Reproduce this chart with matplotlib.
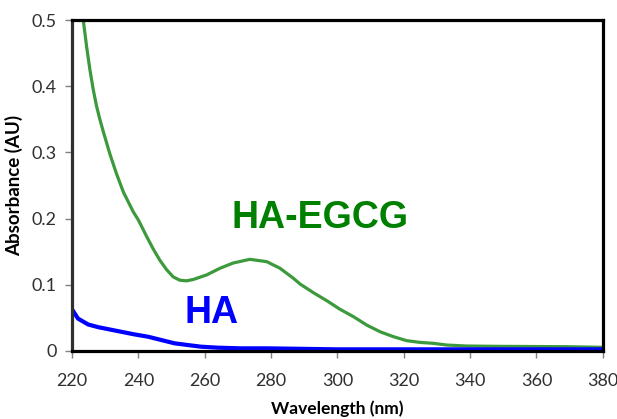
import numpy as np
import matplotlib.pyplot as plt

# HA-EGCG absorbance spectrum
wl_egcg = [223.4, 224.4, 225.4, 226.4, 227.4, 228.4, 229.4, 231.4, 233.4, 235.5,
           238.5, 240.0, 242.5, 244.5, 246.5, 248.5, 250.5, 252.5, 254.5, 256.5,
           260.6, 264.6, 268.6, 273.6, 278.7, 282.7, 286.7, 288.8, 292.8, 296.8,
           300.8, 304.8, 308.9, 312.9, 316.9, 320.9, 324.9, 328.9, 333.0, 339.0,
           349.0, 369.0, 380.0]
abs_egcg = [0.500, 0.460, 0.425, 0.395, 0.370, 0.350, 0.332, 0.298, 0.268, 0.240,
            0.210, 0.198, 0.173, 0.154, 0.137, 0.123, 0.112, 0.107, 0.106, 0.108,
            0.115, 0.125, 0.133, 0.1385, 0.135, 0.125, 0.110, 0.101, 0.088, 0.076,
            0.063, 0.052, 0.039, 0.029, 0.0216, 0.0156, 0.013, 0.0116, 0.009, 0.0075,
            0.007, 0.0065, 0.0055]

# HA absorbance spectrum
wl_ha = [220.0, 221.8, 224.9, 227.9, 233.9, 238.9, 242.9, 246.9, 250.9, 254.9,
         258.9, 264.0, 271.0, 279.0, 300.0, 340.0, 380.0]
abs_ha = [0.063, 0.049, 0.040, 0.036, 0.030, 0.025, 0.0216, 0.0166, 0.0116, 0.009,
          0.0065, 0.005, 0.004, 0.004, 0.0025, 0.0025, 0.0025]

plt.rcParams['font.family'] = ['Lato', 'DejaVu Sans']

fig = plt.figure(figsize=(6.17, 4.19), dpi=100)
ax = fig.add_axes([0.1167, 0.1623, 0.8603, 0.7897])

ax.plot(wl_egcg, abs_egcg, color='#3c9a3c', lw=2.3, solid_joinstyle='round')
ax.plot(wl_ha, abs_ha, color='#0000ff', lw=3.0, solid_joinstyle='round')

ax.text(294.7, 0.2017, 'HA-EGCG', color='#008000', fontsize=27,
        fontweight='bold', family=['Liberation Sans'], ha='center', va='center')
ax.text(262.0, 0.058, 'HA', color='#0000ff', fontsize=27,
        fontweight='bold', family=['Liberation Sans'], ha='center', va='center')

ax.set_xlim(220, 380)
ax.set_ylim(0, 0.5)
ax.set_xticks(np.arange(220, 381, 20))
ax.set_yticks([0, 0.1, 0.2, 0.3, 0.4, 0.5])
ax.set_yticklabels(['0', '0.1', '0.2', '0.3', '0.4', '0.5'])

for side in ['top', 'right', 'bottom']:
    ax.spines[side].set_color('black')
    ax.spines[side].set_linewidth(2.3)
ax.spines['left'].set_color('#303030')
ax.spines['left'].set_linewidth(2.3)

ax.tick_params(axis='both', direction='out', length=5, width=1, color='#808080',
               labelsize=13, labelcolor='#303030')
ax.tick_params(axis='x', pad=11)
ax.tick_params(axis='y', pad=6)

ax.set_xlabel('Wavelength (nm)', fontsize=12.5, fontweight='bold', labelpad=8)
ax.set_ylabel('Absorbance (AU)', fontsize=13.5, fontweight='bold', labelpad=6)

fig.savefig('out.png', dpi=100)
